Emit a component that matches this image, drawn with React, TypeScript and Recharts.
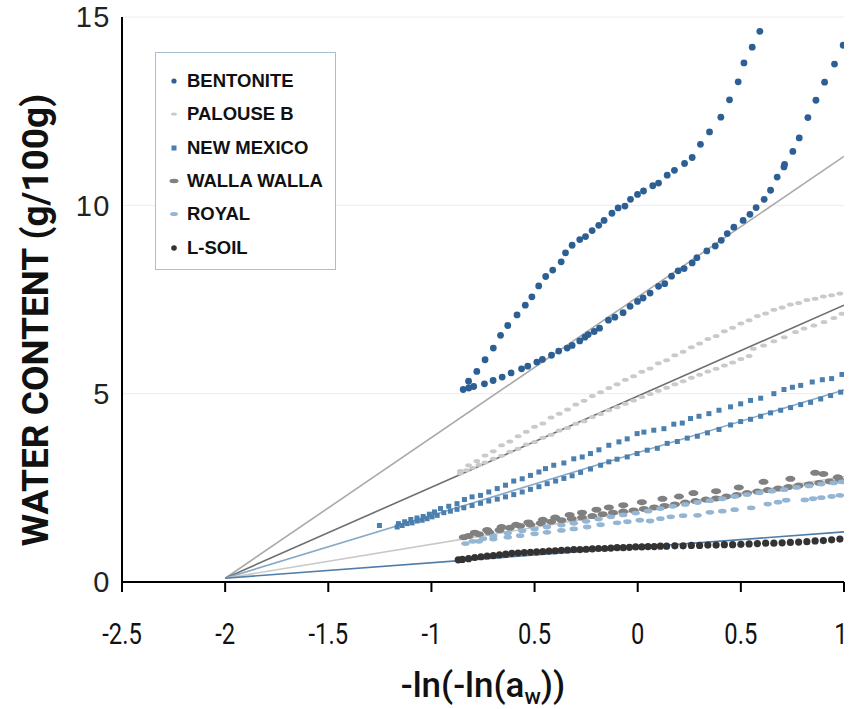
import React from "react";
import { ScatterChart, Scatter, XAxis, YAxis, CartesianGrid } from "recharts";

type P = [number, number];

const X_TICKS = [-2.5, -2, -1.5, -1, -0.5, 0, 0.5, 1];
const X_TICK_LABELS = ["-2.5", "-2", "-1.5", "-1", "0.5", "0", "0.5", "1"];
const Y_TICKS = [0, 5, 10, 15];

const BENTONITE_UP: P[] = [
  [-0.82, 5.33], [-0.78, 5.59], [-0.74, 5.9], [-0.7, 6.21], [-0.665, 6.55], [-0.63, 6.81], [-0.585, 7.09],
  [-0.545, 7.35], [-0.513, 7.57], [-0.48, 7.86], [-0.446, 8.11], [-0.412, 8.28], [-0.371, 8.5], [-0.35, 8.74],
  [-0.318, 8.94], [-0.281, 9.09], [-0.253, 9.17], [-0.221, 9.33], [-0.189, 9.47], [-0.163, 9.6], [-0.125, 9.79],
  [-0.095, 9.93], [-0.062, 9.98], [-0.035, 10.16], [-0.001, 10.29], [0.028, 10.38], [0.073, 10.52], [0.101, 10.59],
  [0.143, 10.8], [0.178, 10.93], [0.227, 11.11], [0.264, 11.27], [0.304, 11.62], [0.348, 11.95], [0.403, 12.34],
  [0.445, 12.8], [0.487, 13.28], [0.515, 13.78], [0.555, 14.2], [0.592, 14.62],
];
const BENTONITE_LOW: P[] = [
  [-0.846, 5.11], [-0.819, 5.15], [-0.795, 5.19], [-0.743, 5.26], [-0.701, 5.35], [-0.657, 5.44], [-0.614, 5.55],
  [-0.563, 5.66], [-0.533, 5.73], [-0.489, 5.84], [-0.462, 5.91], [-0.418, 6.02], [-0.383, 6.13], [-0.342, 6.21],
  [-0.318, 6.28], [-0.281, 6.4], [-0.256, 6.5], [-0.24, 6.57], [-0.211, 6.65], [-0.185, 6.74], [-0.142, 6.95],
  [-0.111, 7.03], [-0.071, 7.15], [-0.037, 7.32], [-0.001, 7.45], [0.026, 7.54], [0.06, 7.67], [0.101, 7.85],
  [0.131, 7.92], [0.164, 8.12], [0.196, 8.26], [0.225, 8.32], [0.264, 8.47], [0.287, 8.61], [0.335, 8.79],
  [0.376, 8.92], [0.405, 9.07], [0.434, 9.25], [0.466, 9.42], [0.511, 9.6], [0.544, 9.76], [0.574, 9.94],
  [0.613, 10.16], [0.644, 10.4], [0.676, 10.75], [0.709, 11.02], [0.712, 11.09], [0.752, 11.43], [0.783, 11.79],
  [0.825, 12.33], [0.864, 12.79], [0.906, 13.27], [0.954, 13.75], [0.996, 14.25],
];
const PALOUSE_UP: P[] = [
  [-0.86, 2.95], [-0.82, 3.1], [-0.78, 3.21], [-0.74, 3.36], [-0.7, 3.47], [-0.66, 3.63], [-0.62, 3.73],
  [-0.58, 3.87], [-0.54, 3.99], [-0.5, 4.12], [-0.46, 4.21], [-0.42, 4.37], [-0.38, 4.47], [-0.34, 4.58],
  [-0.3, 4.71], [-0.26, 4.81], [-0.22, 4.94], [-0.18, 5.04], [-0.14, 5.15], [-0.1, 5.25], [-0.06, 5.37],
  [-0.02, 5.46], [0.02, 5.58], [0.06, 5.67], [0.1, 5.81], [0.14, 5.89], [0.18, 6.02], [0.22, 6.11],
  [0.26, 6.23], [0.3, 6.33], [0.34, 6.45], [0.38, 6.53], [0.42, 6.66], [0.46, 6.75], [0.5, 6.86],
  [0.54, 6.95], [0.58, 7.06], [0.62, 7.13], [0.66, 7.23], [0.7, 7.29], [0.74, 7.37], [0.78, 7.41],
  [0.82, 7.49], [0.86, 7.52], [0.9, 7.58], [0.94, 7.61], [0.98, 7.66],
];
const PALOUSE_LOW: P[] = [
  [-0.86, 2.88], [-0.83, 2.97], [-0.8, 3.03], [-0.77, 3.11], [-0.74, 3.17], [-0.7, 3.27], [-0.66, 3.35],
  [-0.62, 3.46], [-0.58, 3.54], [-0.54, 3.65], [-0.5, 3.72], [-0.46, 3.83], [-0.42, 3.91], [-0.38, 4.02],
  [-0.34, 4.09], [-0.3, 4.2], [-0.26, 4.27], [-0.22, 4.38], [-0.18, 4.46], [-0.14, 4.56], [-0.1, 4.64],
  [-0.06, 4.73], [-0.02, 4.82], [0.02, 4.91], [0.06, 4.99], [0.1, 5.08], [0.14, 5.16], [0.18, 5.25],
  [0.22, 5.33], [0.26, 5.42], [0.3, 5.5], [0.34, 5.59], [0.38, 5.66], [0.42, 5.75], [0.46, 5.83],
  [0.5, 5.92], [0.54, 6.0], [0.56, 6.19], [0.61, 6.28], [0.66, 6.39], [0.71, 6.5], [0.765, 6.64],
  [0.806, 6.73], [0.854, 6.81], [0.903, 6.9], [0.951, 7.01], [0.99, 7.12],
];
const NEW_MEXICO_UP: P[] = [
  [-1.252, 1.5], [-1.16, 1.55], [-1.13, 1.6], [-1.1, 1.66], [-1.07, 1.7], [-1.04, 1.74], [-1.01, 1.8],
  [-0.985, 1.86], [-0.956, 1.95], [-0.916, 2.01], [-0.876, 2.08], [-0.84, 2.19], [-0.803, 2.26], [-0.762, 2.3],
  [-0.722, 2.39], [-0.681, 2.48], [-0.641, 2.57], [-0.601, 2.68], [-0.56, 2.74], [-0.52, 2.83], [-0.479, 2.92],
  [-0.447, 3.01], [-0.407, 3.1], [-0.358, 3.16], [-0.31, 3.27], [-0.269, 3.32], [-0.229, 3.41], [-0.188, 3.51],
  [-0.14, 3.63], [-0.091, 3.72], [-0.051, 3.8], [-0.003, 3.94], [0.03, 3.98], [0.078, 4.03], [0.127, 4.07],
  [0.175, 4.19], [0.216, 4.22], [0.256, 4.34], [0.297, 4.4], [0.345, 4.47], [0.394, 4.56], [0.45, 4.65],
  [0.499, 4.73], [0.547, 4.82], [0.596, 4.88], [0.66, 5.0], [0.709, 5.11], [0.75, 5.17], [0.79, 5.22],
  [0.846, 5.31], [0.895, 5.37], [0.94, 5.4], [0.99, 5.51],
];
const NEW_MEXICO_LOW: P[] = [
  [-1.166, 1.46], [-1.142, 1.5], [-1.118, 1.55], [-1.094, 1.57], [-1.069, 1.62], [-1.045, 1.64], [-1.021, 1.68],
  [-0.997, 1.73], [-0.972, 1.77], [-0.94, 1.84], [-0.908, 1.88], [-0.876, 1.93], [-0.843, 1.97], [-0.803, 2.03],
  [-0.762, 2.09], [-0.722, 2.15], [-0.681, 2.2], [-0.641, 2.26], [-0.601, 2.32], [-0.56, 2.39], [-0.52, 2.46],
  [-0.479, 2.53], [-0.439, 2.61], [-0.398, 2.68], [-0.358, 2.75], [-0.318, 2.82], [-0.277, 2.91], [-0.229, 3.0],
  [-0.18, 3.1], [-0.14, 3.19], [-0.1, 3.26], [-0.051, 3.32], [-0.003, 3.41], [0.046, 3.5], [0.095, 3.55],
  [0.143, 3.68], [0.192, 3.73], [0.24, 3.82], [0.289, 3.87], [0.338, 3.96], [0.394, 4.05], [0.45, 4.17],
  [0.499, 4.26], [0.547, 4.32], [0.596, 4.4], [0.644, 4.49], [0.693, 4.56], [0.741, 4.63], [0.79, 4.71],
  [0.838, 4.77], [0.887, 4.86], [0.935, 4.95], [0.984, 5.04],
];
const WALLA_UP: P[] = [
  [-0.843, 1.19], [-0.79, 1.31], [-0.73, 1.38], [-0.66, 1.46], [-0.59, 1.52], [-0.53, 1.58], [-0.46, 1.65],
  [-0.4, 1.71], [-0.33, 1.78], [-0.27, 1.84], [-0.2, 1.92], [-0.14, 1.98], [-0.07, 2.04], [0.02, 2.12],
  [0.12, 2.21], [0.2, 2.27], [0.27, 2.36], [0.38, 2.41], [0.49, 2.51], [0.61, 2.66], [0.74, 2.74],
  [0.86, 2.9], [0.9, 2.87], [0.97, 2.78],
];
const WALLA_LOW: P[] = [
  [-0.82, 1.22], [-0.77, 1.27], [-0.72, 1.32], [-0.67, 1.38], [-0.62, 1.44], [-0.57, 1.49], [-0.52, 1.52],
  [-0.47, 1.56], [-0.42, 1.6], [-0.37, 1.64], [-0.32, 1.68], [-0.27, 1.71], [-0.22, 1.75], [-0.17, 1.8],
  [-0.12, 1.84], [-0.07, 1.87], [-0.02, 1.9], [0.03, 1.94], [0.08, 1.98], [0.13, 2.02], [0.18, 2.06],
  [0.23, 2.11], [0.28, 2.15], [0.33, 2.19], [0.38, 2.22], [0.43, 2.27], [0.48, 2.31], [0.53, 2.36],
  [0.58, 2.4], [0.63, 2.44], [0.68, 2.48], [0.73, 2.52], [0.78, 2.56], [0.83, 2.59], [0.88, 2.63],
  [0.93, 2.67], [0.98, 2.7],
];
const ROYAL_UP: P[] = [
  [-0.8, 1.08], [-0.75, 1.15], [-0.7, 1.22], [-0.63, 1.3], [-0.56, 1.36], [-0.5, 1.41], [-0.44, 1.46],
  [-0.37, 1.51], [-0.31, 1.56], [-0.25, 1.61], [-0.19, 1.67], [-0.13, 1.73], [-0.07, 1.78], [-0.01, 1.83],
  [0.05, 1.88], [0.11, 1.95], [0.17, 2.01], [0.23, 2.06], [0.29, 2.11], [0.35, 2.16], [0.41, 2.21],
  [0.47, 2.27], [0.53, 2.32], [0.59, 2.37], [0.65, 2.41], [0.71, 2.45], [0.77, 2.51], [0.83, 2.55],
  [0.89, 2.6], [0.95, 2.63], [0.99, 2.66],
];
const ROYAL_LOW: P[] = [
  [-0.835, 1.02], [-0.77, 1.08], [-0.7, 1.14], [-0.63, 1.19], [-0.57, 1.23], [-0.5, 1.28], [-0.44, 1.32],
  [-0.37, 1.37], [-0.31, 1.41], [-0.245, 1.46], [-0.18, 1.52], [-0.1, 1.57], [-0.05, 1.6], [0.01, 1.64],
  [0.06, 1.62], [0.11, 1.68], [0.16, 1.73], [0.22, 1.76], [0.29, 1.77], [0.35, 1.85], [0.41, 1.88],
  [0.47, 1.92], [0.55, 1.97], [0.63, 2.07], [0.68, 2.12], [0.72, 2.17], [0.81, 2.18], [0.85, 2.21],
  [0.89, 2.24], [0.94, 2.27], [0.98, 2.3],
];
const L_SOIL: P[] = [
  [-0.87, 0.59], [-0.85, 0.6], [-0.82, 0.62], [-0.79, 0.65], [-0.76, 0.67], [-0.73, 0.69], [-0.7, 0.7],
  [-0.67, 0.72], [-0.64, 0.74], [-0.61, 0.76], [-0.58, 0.77], [-0.55, 0.78], [-0.52, 0.79], [-0.49, 0.8],
  [-0.46, 0.81], [-0.43, 0.82], [-0.4, 0.83], [-0.37, 0.84], [-0.34, 0.85], [-0.31, 0.86], [-0.28, 0.86],
  [-0.25, 0.87], [-0.22, 0.88], [-0.19, 0.89], [-0.16, 0.89], [-0.13, 0.9], [-0.1, 0.91], [-0.07, 0.91],
  [-0.04, 0.92], [-0.01, 0.93], [0.02, 0.93], [0.05, 0.94], [0.08, 0.94], [0.11, 0.95], [0.14, 0.95],
  [0.18, 0.96], [0.22, 0.96], [0.26, 0.97], [0.3, 0.97], [0.34, 0.98], [0.38, 0.98], [0.42, 0.99],
  [0.46, 0.99], [0.5, 1.0], [0.54, 1.01], [0.58, 1.02], [0.62, 1.03], [0.66, 1.03], [0.7, 1.04],
  [0.74, 1.05], [0.78, 1.06], [0.82, 1.07], [0.86, 1.09], [0.9, 1.1], [0.94, 1.12], [0.98, 1.14],
];

// fitted lines, all start from the same point
const FIT_BENTONITE: P[] = [[-2, 0.1], [1, 11.3]];
const FIT_PALOUSE: P[] = [[-2, 0.1], [1, 7.35]];
const FIT_NEW_MEXICO: P[] = [[-2, 0.1], [1, 5.1]];
const FIT_WALLA: P[] = [[-2, 0.1], [1, 2.8]];
const FIT_L_SOIL: P[] = [[-2, 0.1], [1, 1.33]];

const C = {
  bentonite: "#2c5f93",
  palouse: "#cacaca",
  newMexico: "#4a7fae",
  walla: "#808080",
  royal: "#94b5d3",
  lsoil: "#333333",
};

const pts = (a: P[]) => a.map(([x, y]) => ({ x, y }));

const dot = (r: number, fill: string) => (p: any) => <circle cx={p.cx} cy={p.cy} r={r} fill={fill} />;
const ell = (rx: number, ry: number, fill: string) => (p: any) => (
  <ellipse cx={p.cx} cy={p.cy} rx={rx} ry={ry} fill={fill} />
);
const sq = (s: number, fill: string) => (p: any) => (
  <rect x={p.cx - s / 2} y={p.cy - s / 2} width={s} height={s} fill={fill} />
);
const none = () => <g />;

const XTick = (props: any) => {
  const { x, y, payload } = props;
  const i = X_TICKS.indexOf(payload.value);
  // last label sits at the page edge, nudge it in a little
  const nudge = i === X_TICKS.length - 1 ? -3 : 0;
  return (
    <text transform={`translate(${x + nudge},${y + 50}) scale(0.82,1)`} textAnchor="middle"
      fontFamily="Roboto" fontSize={29} fill="#111">
      {X_TICK_LABELS[i]}
    </text>
  );
};

const YTick = (props: any) => {
  const { x, y, payload } = props;
  return (
    <text x={x} y={y} dy="0.36em" textAnchor="end" fontFamily="Liberation Sans" fontSize={29}
      letterSpacing={1.5} fill="#222">
      {payload.value}
    </text>
  );
};

const XTitle = () => (
  <text x={483} y={697} textAnchor="middle" fontFamily="Roboto" fontWeight={500} fontSize={35} fill="#111">
    -ln(-ln(a<tspan fontSize={22} dy={7}>w</tspan><tspan dy={-7}>))</tspan>
  </text>
);

const YTitle = () => (
  <text transform="translate(48,320) rotate(-90)" textAnchor="middle" fontFamily="Roboto"
    fontWeight={700} fontSize={37} fill="#111">
    WATER CONTENT (g/100g)
  </text>
);

const LEGEND = [
  { name: "BENTONITE", m: <circle cx={8} cy={6} r={2.6} fill={C.bentonite} /> },
  { name: "PALOUSE B", m: <ellipse cx={8} cy={6} rx={3} ry={1.6} fill={C.palouse} /> },
  { name: "NEW MEXICO", m: <rect x={5.5} y={3.5} width={5} height={5} fill={C.newMexico} /> },
  { name: "WALLA WALLA", m: <ellipse cx={8} cy={6} rx={4.5} ry={2.2} fill={C.walla} /> },
  { name: "ROYAL", m: <ellipse cx={8} cy={6} rx={4} ry={2} fill={C.royal} /> },
  { name: "L-SOIL", m: <circle cx={8} cy={6} r={2.8} fill={C.lsoil} /> },
];

const frameLine = { stroke: "#000", strokeWidth: 2 };

export default function App() {
  return (
    <div style={{ position: "absolute", left: 0, top: 0, width: 849, height: 709 }}>
      <ScatterChart width={849} height={709} margin={{ top: 17, right: 5, bottom: 67, left: 0 }}>
        <CartesianGrid vertical={false} stroke="#ececec" strokeWidth={1} />
        <XAxis type="number" dataKey="x" domain={[-2.5, 1]} ticks={X_TICKS} allowDataOverflow
          height={60} tickSize={10} tickMargin={2} interval={0}
          axisLine={frameLine} tickLine={frameLine}
          tick={<XTick />} label={{ content: XTitle }} />
        <XAxis xAxisId="top" orientation="top" type="number" domain={[-2.5, 1]} height={0}
          tick={false} tickLine={false} axisLine={frameLine} />
        <YAxis type="number" dataKey="y" domain={[0, 15]} ticks={Y_TICKS} allowDataOverflow
          width={122} tickSize={0} tickMargin={11} interval={0} tickLine={false}
          axisLine={frameLine} tick={<YTick />} label={{ content: YTitle }} />
        <YAxis yAxisId="right" orientation="right" type="number" domain={[0, 15]} width={0}
          tick={false} tickLine={false} axisLine={frameLine} />

        <Scatter data={pts(FIT_BENTONITE)} line={{ stroke: "#aaaaaa", strokeWidth: 1.6 }} shape={none} isAnimationActive={false} />
        <Scatter data={pts(FIT_PALOUSE)} line={{ stroke: "#6e6e6e", strokeWidth: 1.6 }} shape={none} isAnimationActive={false} />
        <Scatter data={pts(FIT_NEW_MEXICO)} line={{ stroke: "#86a9c9", strokeWidth: 1.6 }} shape={none} isAnimationActive={false} />
        <Scatter data={pts(FIT_WALLA)} line={{ stroke: "#c9c9c9", strokeWidth: 1.6 }} shape={none} isAnimationActive={false} />
        <Scatter data={pts(FIT_L_SOIL)} line={{ stroke: "#4f7da8", strokeWidth: 1.6 }} shape={none} isAnimationActive={false} />

        <Scatter data={pts(PALOUSE_UP)} shape={ell(3.4, 2, C.palouse)} isAnimationActive={false} />
        <Scatter data={pts(PALOUSE_LOW)} shape={ell(3.4, 2, C.palouse)} isAnimationActive={false} />
        <Scatter data={pts(NEW_MEXICO_UP)} shape={sq(5, C.newMexico)} isAnimationActive={false} />
        <Scatter data={pts(NEW_MEXICO_LOW)} shape={sq(5, C.newMexico)} isAnimationActive={false} />
        <Scatter data={pts(WALLA_UP)} shape={ell(5, 3, C.walla)} isAnimationActive={false} />
        <Scatter data={pts(WALLA_LOW)} shape={ell(5, 3, C.walla)} isAnimationActive={false} />
        <Scatter data={pts(ROYAL_UP)} shape={ell(4.2, 2.4, C.royal)} isAnimationActive={false} />
        <Scatter data={pts(ROYAL_LOW)} shape={ell(4.2, 2.4, C.royal)} isAnimationActive={false} />
        <Scatter data={pts(L_SOIL)} shape={dot(3.6, C.lsoil)} isAnimationActive={false} />
        <Scatter data={pts(BENTONITE_UP)} shape={dot(3.4, C.bentonite)} isAnimationActive={false} />
        <Scatter data={pts(BENTONITE_LOW)} shape={dot(3.4, C.bentonite)} isAnimationActive={false} />
      </ScatterChart>

      <div style={{
        position: "absolute", left: 155, top: 52, width: 181, height: 218,
        border: "1.5px solid #a9bfd3", background: "#fff", boxSizing: "border-box",
      }}>
        {LEGEND.map((e, i) => (
          <div key={e.name} style={{
            position: "absolute", left: 10, top: 28 + i * 33.3 - 11, height: 22,
            display: "flex", alignItems: "center",
          }}>
            <svg width={16} height={12} style={{ marginRight: 5 }}>{e.m}</svg>
            <span style={{ fontFamily: "Liberation Sans", fontWeight: 700, fontSize: 18.5, color: "#111", whiteSpace: "nowrap" }}>
              {e.name}
            </span>
          </div>
        ))}
      </div>
    </div>
  );
}
